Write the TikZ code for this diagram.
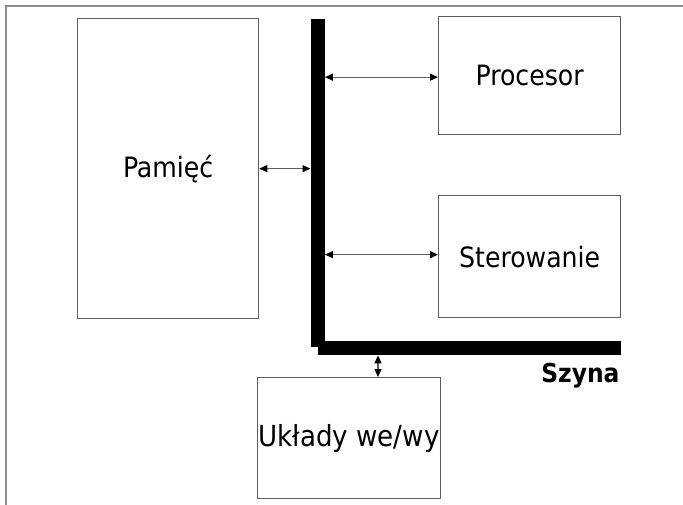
\documentclass[tikz,border=0pt]{standalone}
\usepackage{fontspec}
\setmainfont{DejaVu Sans Condensed}
\usetikzlibrary{arrows.meta,positioning}
\definecolor{EDGE}{HTML}{5E5E5E}
\definecolor{FRAME}{HTML}{8C8C8C}

\begin{document}
\begin{tikzpicture}[x=1pt,y=-1pt]
\tikzset{blok/.style={draw=EDGE,line width=1.3pt,inner sep=0pt,anchor=north west,font=\fontsize{28}{30}\selectfont},
 szyna/.style={fill=black,inner sep=0pt,anchor=north west},
 polacz/.style={EDGE,line width=1.2pt,{Triangle[length=8pt,width=7pt,black]}-{Triangle[length=8pt,width=7pt,black]}}}
\useasboundingbox (0,0) rectangle (683,505);
\draw[FRAME,line width=1.2pt] (683,6) -- (6,6) -- (6,505);
% bloki
\node[blok,minimum width=181pt,minimum height=300pt] (pamiec) at (77,18) {Pamięć};
\node[blok,minimum width=182pt,minimum height=118pt] (procesor) at (438,16) {Procesor};
\node[blok,minimum width=182pt,minimum height=122pt] (sterowanie) at (438,195) {Sterowanie};
\node[blok,minimum width=183pt,minimum height=121pt,font=\fontsize{29}{32}\selectfont] (uklady) at (257,377) {Układy we/wy};
% szyna
\node[szyna,minimum width=14pt,minimum height=328pt] (pion) at (310.5,19) {};
\node[szyna,minimum width=303pt,minimum height=14pt] (poziom) at (318,341) {};
\node[anchor=base east,font=\bfseries\fontsize{26}{28}\selectfont] (etykieta) at (623,382) {Szyna};
% polaczenia
\coordinate (wyj) at (378,0);
\draw[polacz] (pamiec.east) -- (pamiec.east -| pion.west);
\draw[polacz] ([yshift=-1.5pt]pion.east |- procesor.west) -- ([yshift=-1.5pt]procesor.west);
\draw[polacz] ([yshift=2pt]pion.east |- sterowanie.west) -- ([yshift=2pt]sterowanie.west);
\draw[polacz] (poziom.south -| wyj) -- (uklady.north -| wyj);
\end{tikzpicture}
\end{document}
